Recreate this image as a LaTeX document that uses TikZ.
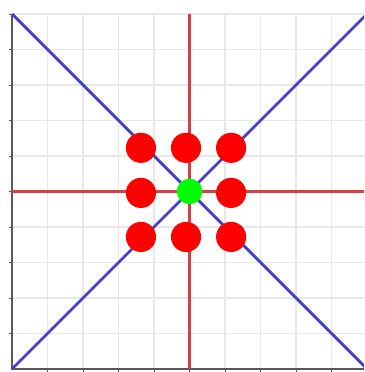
\documentclass[tikz,border=0pt]{standalone}
\usepackage{tikz}
\usetikzlibrary{positioning,calc}

\definecolor{diagblue}{RGB}{64,64,196}
\definecolor{crossred}{RGB}{214,62,72}

\begin{document}
\begin{tikzpicture}[
  gridline/.style={draw=gray!18, line width=1.2pt},
  axisline/.style={draw=gray!70!black, line width=1.3pt},
  diagline/.style={draw=diagblue, line width=2.2pt},
  crossline/.style={draw=crossred, line width=2pt},
  reddot/.style={circle, fill=red, inner sep=0pt, minimum size=0.85cm},
  greendot/.style={circle, fill=green, inner sep=0pt, minimum size=0.72cm},
]
\useasboundingbox (-0.34,-0.085) rectangle (9.915,10.394);
\fill[white] (-0.34,-0.085) rectangle (9.915,10.394);
\clip (-0.34,-0.085) rectangle (9.915,10.394);
% grid and axes
\foreach \i in {1,...,10} {
  \draw[gridline] (\i,0) -- (\i,10);
  \draw[gridline] (0,\i) -- (10,\i);
}
\coordinate (o) at (0,0);
\coordinate (tl) at (0,10);
\coordinate (br) at (10,0);
\coordinate (tr) at (10,10);
\draw[axisline] (tl) -- (o) -- (br);
\foreach \i in {1,...,10} {
  \draw[axisline, line width=0.6pt] (-0.08,\i) -- (0,\i);
  \draw[axisline, line width=0.6pt] (\i,-0.08) -- (\i,0);
}
% cross and diagonals
\coordinate (c) at (5,5);
\draw[crossline] (c |- o) -- (c |- tr);
\draw[crossline] (c -| o) -- (c -| tr);
\draw[diagline] (o) -- (tr);
\draw[diagline] (tl) -- (br);
% dots
\node[reddot] (d1) at (3.63,6.23) {};
\node[reddot] (d2) at (4.9,6.23) {};
\node[reddot] (d3) at (6.17,6.23) {};
\node[reddot] (d4) at (3.63,4.96) {};
\node[reddot] (d6) at (6.17,4.96) {};
\node[reddot] (d7) at (3.63,3.72) {};
\node[reddot] (d8) at (4.9,3.72) {};
\node[reddot] (d9) at (6.17,3.72) {};
\node[greendot] (g) at (c) {};
\end{tikzpicture}
\end{document}
